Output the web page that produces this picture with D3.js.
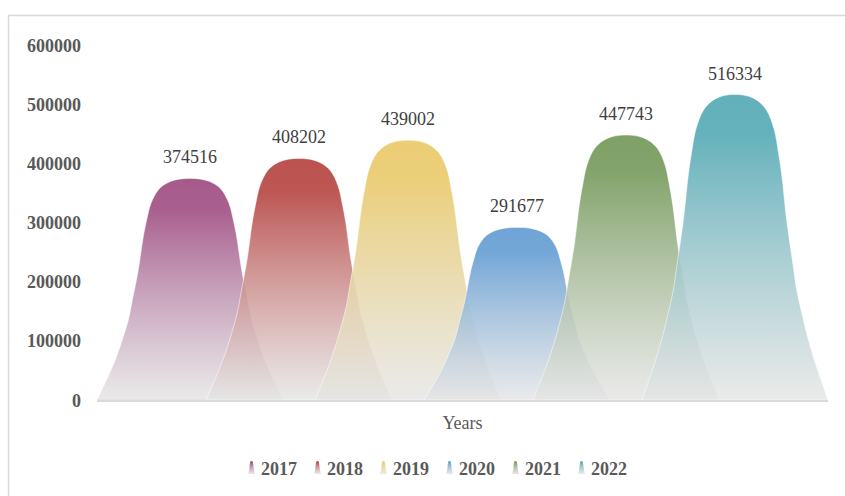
<!DOCTYPE html>
<html>
<head>
<meta charset="utf-8">
<script src="https://cdn.jsdelivr.net/npm/d3@7/dist/d3.min.js"></script>
<style>
    html, body { margin: 0; padding: 0; background: #fff; }
    svg { display: block; }
    text { font-family: "Liberation Serif", "Times New Roman", serif; }
</style>
</head>
<body>
<div id="grafico"></div>
<script>
// Dados do gráfico
const anos = ["2017", "2018", "2019", "2020", "2021", "2022"];
const valores = [374516, 408202, 439002, 291677, 447743, 516334];
const cores = ["#a65a8b", "#bb524f", "#ebcd75", "#6fa4d6", "#7fa167", "#62b0ba"];
const ticksY = [0, 100000, 200000, 300000, 400000, 500000, 600000];
const tituloX = "Years";

// Perfil do "sino": [fração da meia-largura, fração da altura]
const perfil = [
    [1.000, 0.000], [0.932, 0.060], [0.849, 0.135], [0.777, 0.211],
    [0.717, 0.286], [0.663, 0.361], [0.627, 0.436], [0.556, 0.587],
    [0.502, 0.737], [0.466, 0.812], [0.419, 0.888], [0.341, 0.948],
    [0.251, 0.978], [0.160, 0.993], [0.070, 0.999], [0.000, 1.000]
];

const width = 845;
const height = 496;

const svg = d3.select("#grafico")
    .append("svg")
    .attr("width", width)
    .attr("height", height);

// Borda da área do gráfico
svg.append("rect")
    .attr("x", 8.5)
    .attr("y", 15.5)
    .attr("width", 900)
    .attr("height", 600)
    .attr("fill", "none")
    .attr("stroke", "#d9d9d9")
    .attr("stroke-width", 1.5);

const x = d3.scaleBand()
    .domain(anos)
    .range([97, 828])
    .paddingInner(0)
    .paddingOuter(0.353);

const y = d3.scaleLinear()
    .domain([0, 600000])
    .range([400, 45]);

const meiaBase = x.bandwidth() * 0.853;

// Gradientes
const defs = svg.append("defs");
anos.forEach((ano, i) => {
    const g = defs.append("linearGradient")
        .attr("id", "grad" + ano)
        .attr("x1", 0).attr("y1", 0)
        .attr("x2", 0).attr("y2", 1);
    g.append("stop").attr("offset", "0%").attr("stop-color", cores[i]).attr("stop-opacity", 1);
    g.append("stop").attr("offset", "14%").attr("stop-color", cores[i]).attr("stop-opacity", 0.97);
    g.append("stop").attr("offset", "100%").attr("stop-color", "#e4e4e4").attr("stop-opacity", 0.78);
});

const linha = d3.line().curve(d3.curveCatmullRom.alpha(0.5));

function pontosSino(cx, hw, escalaY, valor) {
    const esquerda = perfil.map(([f, t]) => [cx - hw * f, escalaY(valor * t)]);
    const direita = perfil.slice(0, -1).reverse().map(([f, t]) => [cx + hw * f, escalaY(valor * t)]);
    return esquerda.concat(direita);
}

// Eixo Y (apenas rótulos)
const eixoY = svg.append("g")
    .attr("transform", "translate(81,0)")
    .call(d3.axisLeft(y).tickValues(ticksY).tickFormat(d3.format("d")).tickSize(0).tickPadding(0));
eixoY.select(".domain").remove();
eixoY.selectAll("text")
    .attr("font-family", "Liberation Serif, serif")
    .attr("font-size", 18)
    .attr("font-weight", "bold")
    .attr("fill", "#595959")
    .attr("dy", "0.34em");

// Linha rosada na base (borda da série 2018 no original)
svg.append("line")
    .attr("x1", 97).attr("x2", 207)
    .attr("y1", y(0) - 0.5).attr("y2", y(0) - 0.5)
    .attr("stroke", "#e0a8a8")
    .attr("stroke-width", 1);

// Sinos
svg.append("g")
    .selectAll("path")
    .data(anos)
    .enter()
    .append("path")
    .attr("d", (d, i) => linha(pontosSino(x(d) + x.bandwidth() / 2, meiaBase, y, valores[i])) + "Z")
    .attr("fill", d => `url(#grad${d})`)
    .attr("stroke", "#ffffff")
    .attr("stroke-opacity", 0.5)
    .attr("stroke-width", 1);

// Linha do eixo X
svg.append("line")
    .attr("x1", 97).attr("x2", 828)
    .attr("y1", y(0) + 1).attr("y2", y(0) + 1)
    .attr("stroke", "#d9d9d9")
    .attr("stroke-width", 2);

// Rótulos de dados
svg.append("g")
    .selectAll("text")
    .data(anos)
    .enter()
    .append("text")
    .attr("x", d => x(d) + x.bandwidth() / 2)
    .attr("y", (d, i) => y(valores[i]) - 15)
    .attr("text-anchor", "middle")
    .attr("font-size", 18)
    .attr("fill", "#404040")
    .text((d, i) => valores[i]);

// Título do eixo X
svg.append("text")
    .attr("x", (97 + 828) / 2)
    .attr("y", 429)
    .attr("text-anchor", "middle")
    .attr("font-size", 18)
    .attr("fill", "#595959")
    .text(tituloX);

// Legenda
const legenda = svg.append("g").attr("transform", "translate(248,0)");
const itens = legenda.selectAll("g")
    .data(anos)
    .enter()
    .append("g")
    .attr("transform", (d, i) => `translate(${i * 66},0)`);

const yLeg = d3.scaleLinear().domain([0, 1]).range([474, 461]);
itens.append("path")
    .attr("d", d => linha(pontosSino(3.5, 3.5, yLeg, 1)) + "Z")
    .attr("fill", d => `url(#grad${d})`);

itens.append("text")
    .attr("x", 13)
    .attr("y", 475)
    .attr("font-size", 18)
    .attr("font-weight", "bold")
    .attr("fill", "#595959")
    .text(d => d);
</script>
</body>
</html>
